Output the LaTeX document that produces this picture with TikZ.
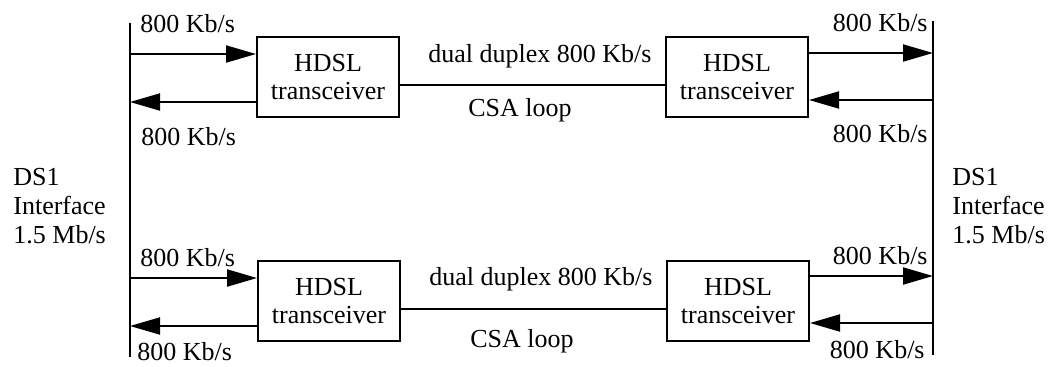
\documentclass[tikz,border=0pt]{standalone}
\usepackage{fontspec}
\setmainfont{Liberation Serif}
\usetikzlibrary{arrows.meta, positioning}

\begin{document}
\begin{tikzpicture}[x=0.5pt, y=-0.5pt,
    box/.style={draw, line width=1pt, align=center, minimum width=71pt,
                minimum height=40pt, inner sep=0pt, font=\fontsize{13}{14}\selectfont},
    lbl/.style={inner sep=0pt, font=\fontsize{13}{14}\selectfont},
    wire/.style={line width=1pt},
    arrow/.style={-{Triangle[length=15pt, width=8.5pt]}, line width=1pt}
    ]
    \useasboundingbox (0,0) rectangle (1049,366);

    % transceivers
    \node[box] (hdslTL) at (328,77)  {HDSL\\transceiver};
    \node[box] (hdslTR) at (737,77)  {HDSL\\transceiver};
    \node[box] (hdslBL) at (329,301) {HDSL\\transceiver};
    \node[box] (hdslBR) at (738,301) {HDSL\\transceiver};

    % DS1 interface buses
    \coordinate (busLtop) at (130,23);
    \coordinate (busLbot) at (130,357);
    \coordinate (busRtop) at (933,21);
    \coordinate (busRbot) at (933,355);
    \draw[wire] (busLtop) -- (busLbot);
    \draw[wire] (busRtop) -- (busRbot);

    % CSA loops
    \draw[wire] ([yshift=-4pt]hdslTL.east) -- ([yshift=-4pt]hdslTR.west);
    \draw[wire] ([yshift=-4pt]hdslBL.east) -- ([yshift=-4pt]hdslBR.west);

    % ports
    \coordinate (inTL)  at ([yshift=11.5pt]hdslTL.west);
    \coordinate (outTL) at ([yshift=-12.5pt]hdslTL.west);
    \coordinate (outTR) at ([yshift=12pt]hdslTR.east);
    \coordinate (inTR)  at ([yshift=-11.5pt]hdslTR.east);
    \coordinate (inBL)  at ([yshift=11.5pt]hdslBL.west);
    \coordinate (outBL) at ([yshift=-12.5pt]hdslBL.west);
    \coordinate (outBR) at ([yshift=12.5pt]hdslBR.east);
    \coordinate (inBR)  at ([yshift=-11pt]hdslBR.east);

    \draw[arrow] (busLtop |- inTL) -- (inTL);
    \draw[arrow] (outTL) -- (outTL -| busLtop);
    \draw[arrow] (outTR) -- (outTR -| busRtop);
    \draw[arrow] (busRtop |- inTR) -- (inTR);
    \draw[arrow] (busLtop |- inBL) -- (inBL);
    \draw[arrow] (outBL) -- (outBL -| busLtop);
    \draw[arrow] (outBR) -- (outBR -| busRtop);
    \draw[arrow] (busRtop |- inBR) -- (inBR);

    % rates
    \node[lbl, anchor=base west] (rateTLa) at (140,32)  {800 Kb/s};
    \node[lbl, anchor=base west] (rateTLb) at (141,145) {800 Kb/s};
    \node[lbl, anchor=base east] (rateTRa) at (928,31)  {800 Kb/s};
    \node[lbl, anchor=base east] (rateTRb) at (928,142) {800 Kb/s};
    \node[lbl, anchor=base west] (rateBLa) at (140,266) {800 Kb/s};
    \node[lbl, anchor=base west] (rateBLb) at (137,360) {800 Kb/s};
    \node[lbl, anchor=base east] (rateBRa) at (928,264) {800 Kb/s};
    \node[lbl, anchor=base east] (rateBRb) at (925,358) {800 Kb/s};

    \node[lbl, anchor=base] (duplexT) at (540,62)  {dual duplex 800 Kb/s};
    \node[lbl, anchor=base] (loopT)   at (520,116) {CSA loop};
    \node[lbl, anchor=base] (duplexB) at (541,285) {dual duplex 800 Kb/s};
    \node[lbl, anchor=base] (loopB)   at (522,347) {CSA loop};

    % interfaces
    \node[lbl, align=left, anchor=north west, font=\fontsize{13}{14.5}\selectfont]
        (ds1L) at (13,168) {DS1\\Interface\\1.5 Mb/s};
    \node[lbl, align=left, anchor=north west, font=\fontsize{13}{14.5}\selectfont]
        (ds1R) at (952,168) {DS1\\Interface\\1.5 Mb/s};
\end{tikzpicture}
\end{document}
